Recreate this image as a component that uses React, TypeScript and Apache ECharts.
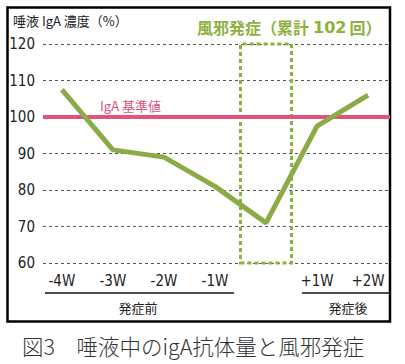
import React, { useEffect, useRef } from "react";
import * as echarts from "echarts";

const weeks = [-4, -3, -2, -1, 0, 1, 2];
const igaValues = [107.5, 91, 89, 81, 71, 97.5, 106];
const labelWeeks = [-4, -3, -2, -1, 1, 2];
const baseline = 100;
const onsetRange = [-0.5, 0.5];
const yTicks = [60, 70, 80, 90, 100, 110, 120];

const GREEN = "#8aab45";
const GREEN_DOT = "#8db13e";
const PINK = "#e0537a";

export default function App() {
  const ref = useRef<HTMLDivElement>(null);
  useEffect(() => {
    document.body.style.margin = "0";
    const chart = echarts.init(ref.current!, null, { renderer: "svg" });
    const num = "'Liberation Sans Narrow', 'DejaVu Sans Condensed', sans-serif";
    const jp = "'Noto Sans CJK JP', sans-serif";
    chart.setOption({
      animation: false,
      backgroundColor: "#ffffff",
      grid: { left: 43, right: 15, top: 44, bottom: 101 },
      xAxis: {
        type: "value",
        min: -4.37,
        max: 2.43,
        axisLine: { show: false },
        axisTick: { show: false },
        splitLine: { show: false },
        axisLabel: {
          customValues: labelWeeks,
          formatter: (v: number) => (v > 0 ? "+" + v : String(v)) + "W",
          fontFamily: num,
          fontSize: 15,
          color: "#222",
          margin: 10,
        },
      },
      yAxis: {
        type: "value",
        min: yTicks[0],
        max: yTicks[yTicks.length - 1],
        interval: 10,
        axisLine: { show: false },
        axisTick: { show: false },
        axisLabel: { fontFamily: num, fontSize: 15, color: "#222", margin: 8 },
        splitLine: { show: true, lineStyle: { color: "#555", type: [3, 3], width: 1 } },
      },
      series: [
        {
          type: "line",
          data: weeks.map((w, i) => [w, igaValues[i]]),
          symbol: "none",
          lineStyle: { color: GREEN, width: 5 },
          z: 5,
          markLine: {
            silent: true,
            symbol: "none",
            label: { show: false },
            lineStyle: { color: PINK, width: 4, type: "solid" },
            data: [{ yAxis: baseline }],
            z: 3,
          },
          markArea: {
            silent: true,
            itemStyle: {
              color: "transparent",
              borderColor: GREEN_DOT,
              borderWidth: 3,
              borderType: [4, 3],
            },
            data: [[{ xAxis: onsetRange[0], yAxis: 60 }, { xAxis: onsetRange[1], yAxis: 120 }]],
          },
        },
      ],
      graphic: [
        {
          type: "rect",
          shape: { x: 7.5, y: 7.5, width: 382.5, height: 314 },
          style: { fill: "none", stroke: "#000", lineWidth: 2.5 },
          silent: true,
        },
        {
          type: "text",
          left: 13,
          top: 14,
          style: { text: "唾液 IgA 濃度（%）", fontFamily: jp, fontSize: 13, fill: "#222" },
        },
        {
          type: "text",
          x: 197,
          y: 27,
          style: {
            text: "{a|風邪発症（累計}{d|102}{a|回）}",
            verticalAlign: "middle",
            fill: GREEN_DOT,
            rich: {
              a: { fontFamily: jp, fontSize: 16, fontWeight: "bold", fill: GREEN_DOT },
              d: {
                fontFamily: "'DejaVu Sans', sans-serif",
                fontSize: 16,
                fontWeight: "bold",
                fill: GREEN_DOT,
                padding: [0, 3, 0, 4],
              },
            },
          },
        },
        {
          type: "text",
          left: 100,
          top: 99,
          style: { text: "IgA 基準値", fontFamily: jp, fontSize: 13, fill: PINK },
        },
        {
          type: "line",
          shape: { x1: 45, y1: 293, x2: 234, y2: 293 },
          style: { stroke: "#111", lineWidth: 1.5 },
        },
        {
          type: "line",
          shape: { x1: 302, y1: 293, x2: 390, y2: 293 },
          style: { stroke: "#111", lineWidth: 1.5 },
        },
        {
          type: "text",
          x: 138,
          y: 307,
          style: {
            text: "発症前",
            fontFamily: jp,
            fontSize: 13,
            fill: "#222",
            align: "center",
            verticalAlign: "middle",
          },
        },
        {
          type: "text",
          x: 348,
          y: 307,
          style: {
            text: "発症後",
            fontFamily: jp,
            fontSize: 13,
            fill: "#222",
            align: "center",
            verticalAlign: "middle",
          },
        },
        {
          type: "text",
          x: 22,
          y: 345,
          style: {
            text: "図3　唾液中のigA抗体量と風邪発症",
            fontFamily: jp,
            fontSize: 21.5,
            fontWeight: 300,
            fill: "#333",
            verticalAlign: "middle",
          },
        },
      ],
    });
    return () => chart.dispose();
  }, []);
  return <div ref={ref} style={{ width: 405, height: 364 }} />;
}
